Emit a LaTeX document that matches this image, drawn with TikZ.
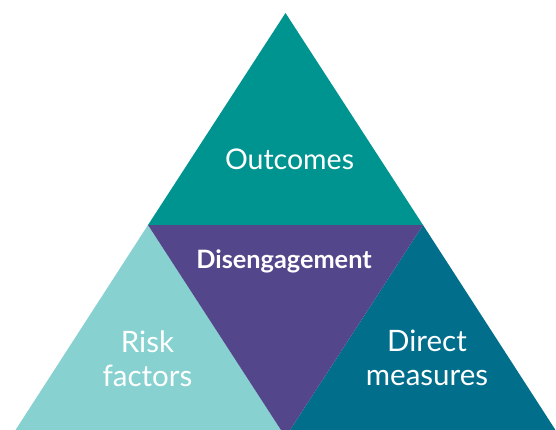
\documentclass[tikz,border=0pt]{standalone}
\usepackage{fontspec}
\setmainfont{Lato}
\usepackage{tikz}
\usetikzlibrary{positioning}
\definecolor{topteal}{HTML}{009490}
\definecolor{lightteal}{HTML}{87D1D1}
\definecolor{deepblue}{HTML}{016E8B}
\definecolor{midpurple}{HTML}{53468A}
\tikzset{label/.style = {text=white, inner sep = 0}}
\tikzset{big/.style = {label, align=center, font=\fontsize{29.5}{34.5}\selectfont}}

\begin{document}
\begin{tikzpicture}[x=1pt, y=-1pt]
        \useasboundingbox (0,0) rectangle (556,430);
        \clip (0,0) rectangle (556,430);
        \coordinate (apex) at (285.5,13);
        \coordinate (midL) at (148,225);
        \coordinate (midR) at (423,225);
        \coordinate (botL) at (11,437);
        \coordinate (botM) at (285.5,437);
        \coordinate (botR) at (560,437);
        \fill [topteal] (apex)--(midL)--(midR)--cycle;
        \fill [lightteal] (midL)--(botL)--(botM)--cycle;
        \fill [deepblue] (midR)--(botM)--(botR)--cycle;
        \fill [midpurple] (midL)--(midR)--(botM)--cycle;
        \node [label, font=\fontsize{28.5}{34}\selectfont, anchor=base] (outcomes) at (289.5,170) {Outcomes};
        \node [label, font=\bfseries\fontsize{25.3}{30}\selectfont, anchor=base] (diseng) at (284,268) {Disengagement};
        \node [big] (risk) at (147.5,359) {Risk\\factors};
        \node [big] (direct) at (427,358) {Direct\\measures};
    \end{tikzpicture}
\end{document}
